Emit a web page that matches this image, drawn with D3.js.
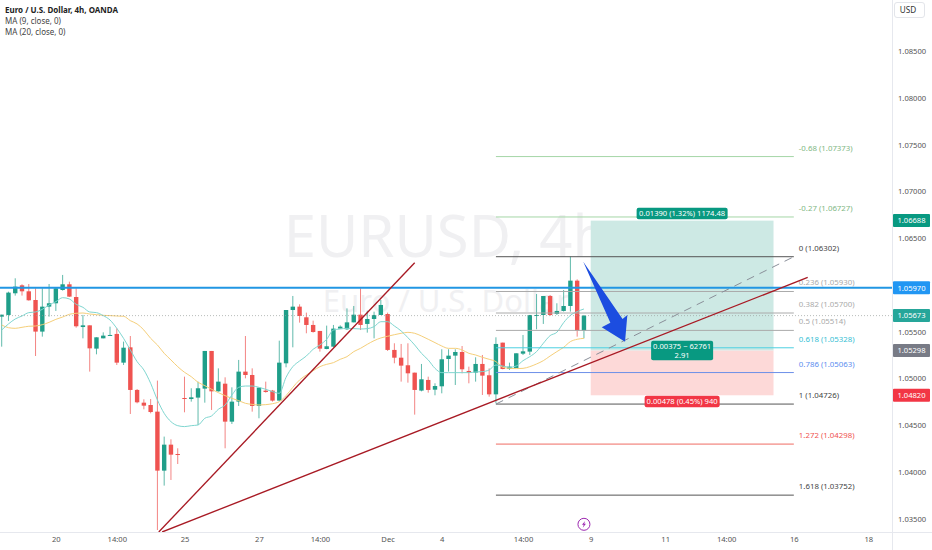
<!DOCTYPE html>
<html>
<head>
<meta charset="utf-8">
<script src="https://cdn.jsdelivr.net/npm/d3@7"></script>
<style>
  body { margin: 0; background: #fff; overflow: hidden; }
  text { font-family: "Noto Sans", sans-serif; }
</style>
</head>
<body>
<div id="chart"></div>
<script>
// EUR/USD 4h candles
const opens = [
  1.05661,1.05679,1.05911,1.05996,1.05932,1.05839,1.05501,1.05768,1.05804,1.05946,
  1.06007,1.05871,1.05550,1.05568,1.05319,1.05429,1.05458,1.05476,1.05169,1.05333,
  1.04877,1.04741,1.04716,1.04645,1.04014,1.04292,1.04192,1.04791,1.04780,1.04795,
  1.04891,1.05294,1.04862,1.04944,1.04538,1.04752,1.05073,1.05037,1.04706,1.04870,
  1.04870,1.04763,1.05162,1.05732,1.05768,1.05654,1.05572,1.05508,1.05315,1.05340,
  1.05533,1.05526,1.05600,1.05682,1.05583,1.05636,1.05679,1.05689,1.05305,1.05222,
  1.05141,1.05062,1.04870,1.04984,1.04880,1.04916,1.05208,1.05244,1.05283,1.05080,
  1.05062,1.05155,1.05034,1.04830,1.05383,1.05101,1.05112,1.05265,1.05287,1.05672,
  1.05679,1.05882,1.05690,1.05722,1.05775,1.06046,1.05511];
const highs = [
  1.05682,1.05928,1.06071,1.06007,1.06010,1.05964,1.05964,1.06010,1.05975,1.06107,
  1.06035,1.05964,1.05679,1.05568,1.05440,1.05493,1.05554,1.05536,1.05394,1.05454,
  1.04887,1.04777,1.04780,1.04977,1.04378,1.04349,1.04253,1.05019,1.04895,1.04966,
  1.05294,1.05294,1.05108,1.05012,1.04905,1.05198,1.05454,1.05108,1.04902,1.04966,
  1.04877,1.05404,1.05732,1.05882,1.05793,1.05704,1.05618,1.05508,1.05565,1.05572,
  1.05568,1.05750,1.05775,1.05964,1.05725,1.05714,1.05839,1.05704,1.05376,1.05369,
  1.05376,1.05062,1.05155,1.05019,1.04948,1.05312,1.05312,1.05312,1.05347,1.05126,
  1.05226,1.05251,1.05108,1.05440,1.05383,1.05169,1.05269,1.05465,1.05679,1.05903,
  1.05882,1.05893,1.05804,1.05946,1.06303,1.06060,1.05679];
const lows = [
  1.05340,1.05615,1.05886,1.05886,1.05832,1.05240,1.05447,1.05661,1.05722,1.05939,
  1.05871,1.05543,1.05429,1.05073,1.05258,1.05429,1.05458,1.05144,1.05144,1.04620,
  1.04734,1.04670,1.04627,1.03379,1.03854,1.03914,1.04085,1.04638,1.04752,1.04502,
  1.04741,1.04663,1.04859,1.04253,1.04513,1.04706,1.05001,1.04645,1.04574,1.04848,
  1.04752,1.04763,1.05119,1.05333,1.05597,1.05483,1.05490,1.05287,1.05312,1.05333,
  1.05533,1.05518,1.05600,1.05518,1.05490,1.05429,1.05679,1.05294,1.05162,1.04966,
  1.04955,1.04613,1.04862,1.04848,1.04820,1.04841,1.05073,1.04930,1.05055,1.04948,
  1.04966,1.04823,1.04805,1.04734,1.05098,1.05091,1.05112,1.05251,1.05251,1.05526,
  1.05583,1.05668,1.05679,1.05715,1.05715,1.05447,1.05429];
const closes = [
  1.05682,1.05918,1.05982,1.05932,1.05836,1.05501,1.05768,1.05804,1.05964,1.06007,
  1.05875,1.05558,1.05568,1.05322,1.05440,1.05458,1.05465,1.05169,1.05329,1.04877,
  1.04745,1.04709,1.04641,1.04014,1.04292,1.04185,1.04185,1.04784,1.04798,1.04895,
  1.05294,1.04862,1.04966,1.04538,1.04752,1.05073,1.05037,1.04706,1.04902,1.04855,
  1.04763,1.05169,1.05732,1.05768,1.05668,1.05572,1.05497,1.05319,1.05344,1.05533,
  1.05554,1.05600,1.05682,1.05572,1.05636,1.05679,1.05786,1.05305,1.05222,1.05137,
  1.05055,1.04877,1.04991,1.04877,1.04919,1.05205,1.05244,1.05283,1.05098,1.05062,
  1.05155,1.05030,1.04830,1.05369,1.05101,1.05126,1.05269,1.05290,1.05679,1.05679,
  1.05882,1.05679,1.05722,1.05775,1.06046,1.05511,1.05672];

const ma9 = [
  1.05518,1.05583,1.05636,1.05668,1.05704,1.05711,1.05739,1.05786,1.05821,1.05864,
  1.05850,1.05793,1.05761,1.05711,1.05704,1.05672,1.05625,1.05536,1.05429,1.05305,
  1.05180,1.05091,1.04948,1.04770,1.04627,1.04538,1.04495,1.04485,1.04495,1.04502,
  1.04574,1.04599,1.04670,1.04716,1.04823,1.04905,1.04919,1.04919,1.04905,1.04884,
  1.04859,1.04841,1.05012,1.05126,1.05187,1.05240,1.05312,1.05358,1.05419,1.05518,
  1.05529,1.05536,1.05533,1.05529,1.05533,1.05554,1.05607,1.05607,1.05561,1.05508,
  1.05436,1.05358,1.05269,1.05198,1.05108,1.05062,1.05062,1.05062,1.05062,1.05062,
  1.05069,1.05073,1.05091,1.05144,1.05133,1.05119,1.05133,1.05190,1.05233,1.05287,
  1.05376,1.05458,1.05494,1.05597,1.05675,1.05715,1.05743];
const ma20 = [
  1.05572,1.05543,1.05536,1.05547,1.05558,1.05561,1.05575,1.05600,1.05632,1.05657,
  1.05686,1.05697,1.05700,1.05689,1.05682,1.05675,1.05672,1.05668,1.05665,1.05618,
  1.05583,1.05518,1.05429,1.05358,1.05269,1.05198,1.05126,1.05066,1.05019,1.04959,
  1.04923,1.04884,1.04848,1.04816,1.04787,1.04763,1.04734,1.04723,1.04716,1.04720,
  1.04730,1.04752,1.04816,1.04905,1.04984,1.05037,1.05083,1.05126,1.05151,1.05169,
  1.05205,1.05233,1.05287,1.05322,1.05365,1.05404,1.05433,1.05451,1.05468,1.05483,
  1.05493,1.05483,1.05454,1.05419,1.05383,1.05347,1.05322,1.05322,1.05305,1.05269,
  1.05251,1.05226,1.05205,1.05180,1.05119,1.05108,1.05105,1.05108,1.05126,1.05155,
  1.05190,1.05240,1.05287,1.05333,1.05394,1.05419,1.05429];

// axes
const priceTicks = [1.035,1.04,1.045,1.05,1.055,1.06,1.065,1.07,1.075,1.08,1.085];
const timeTicks = [8,17,27,38,47,57,65,77,87,98,107,117,128];
const timeLabels = ["20","14:00","25","27","14:00","Dec","4","14:00","9","11","14:00","16","18"];

// fib retracement
const fibRatios = ["-0.68","-0.27","0","0.236","0.382","0.5","0.618","0.786","1","1.272","1.618"];
const fibPrices = [1.07373,1.06727,1.06302,1.0593,1.057,1.05514,1.05328,1.05063,1.04726,1.04298,1.03752];
const fibColors = ["#a5d6a7","#a5d6a7","#555","#aaa","#aaa","#aaa","#4dd0e1","#6d8fe8","#555","#ef6c62","#555"];
const fibLabelColors = ["#81b784","#81b784","#444","#aaa","#aaa","#aaa","#35c0d4","#5b8def","#444","#ef5350","#444"];
const fibStart = 73, fibEnd = 117;

// long position tool
const posStart = 87, posEnd = 114;
const posTarget = 1.06688, posEntry = 1.05298, posStop = 1.0482;

// drawings, as [candle index, price]
const trend1 = [[23.2,1.03358],[61,1.06238]];
const trend2 = [[23.7,1.03358],[119.05,1.06081]];
const fibDiag = [[73,1.04726],[117,1.06302]];
const arrowPts = [[85.9,1.06249],[91.7,1.05635],[92.41,1.05679],[92.07,1.05393],[88.63,1.05547],[89.9,1.05595]];
const hLine = 1.0597;

const priceTags = [
  {p:1.06688, c:"#089981"},
  {p:1.0597, c:"#2196f3"},
  {p:1.05673, c:"#26a69a"},
  {p:1.05298, c:"#787b86"},
  {p:1.0482, c:"#f23645"}
];

const width = 932, height = 550;
const plotW = 892, plotH = 532;
const upColor = "#1f9e89", downColor = "#ef5350";

const svg = d3.select("#chart").append("svg")
  .attr("width", width).attr("height", height)
  .style("display", "block");

const x = d3.scaleLinear().domain([-0.25,131.5]).range([0,plotW]);
const y = d3.scaleLinear().domain([1.035,1.085]).range([518.7,51.2]);

svg.append("clipPath").attr("id","plot").append("rect")
  .attr("width",plotW).attr("height",plotH);

const plot = svg.append("g").attr("clip-path","url(#plot)");

// watermark
plot.append("text").attr("x",446).attr("y",257)
  .attr("text-anchor","middle").attr("font-size",58).attr("fill","#f0f0f2")
  .text("EURUSD, 4h");
plot.append("text").attr("x",446).attr("y",312)
  .attr("text-anchor","middle").attr("font-size",31).attr("fill","#f0f0f2")
  .text("Euro / U.S. Dollar");

// position tool zones
plot.append("rect").attr("x",x(posStart)).attr("width",x(posEnd)-x(posStart))
  .attr("y",y(posTarget)).attr("height",y(posEntry)-y(posTarget))
  .attr("fill","#cde9e4");
plot.append("rect").attr("x",x(posStart)).attr("width",x(posEnd)-x(posStart))
  .attr("y",y(posEntry)).attr("height",y(posStop)-y(posEntry))
  .attr("fill","#fdd9d8");

// candles
const idx = d3.range(opens.length);
const dir = i => closes[i] >= opens[i] ? upColor : downColor;

plot.selectAll(".wick").data(idx).enter().append("line")
  .attr("class","wick")
  .attr("x1",i => x(i)).attr("x2",i => x(i))
  .attr("y1",i => y(highs[i])).attr("y2",i => y(lows[i]))
  .attr("stroke",dir).attr("stroke-width",1).attr("opacity",0.7);

plot.selectAll(".body").data(idx).enter().append("rect")
  .attr("class","body")
  .attr("x",i => x(i)-2.2).attr("width",4.4)
  .attr("y",i => y(Math.max(opens[i],closes[i])))
  .attr("height",i => Math.max(1,Math.abs(y(opens[i])-y(closes[i]))))
  .attr("fill",dir);

// moving averages
const maLine = d3.line().x((d,i) => x(i)).y(d => y(d)).curve(d3.curveMonotoneX);
plot.append("path").attr("d",maLine(ma20)).attr("fill","none").attr("stroke","#f5cf7a").attr("stroke-width",1);
plot.append("path").attr("d",maLine(ma9)).attr("fill","none").attr("stroke","#7fd6d0").attr("stroke-width",1);

// fib levels
fibPrices.forEach((p,k) => {
  plot.append("line").attr("x1",x(fibStart)).attr("x2",x(fibEnd))
    .attr("y1",y(p)).attr("y2",y(p))
    .attr("stroke",fibColors[k]).attr("stroke-width",1);
  plot.append("text").attr("x",x(fibEnd)+5).attr("y",y(p)-6)
    .attr("font-size",7.85).attr("fill",fibLabelColors[k])
    .text(fibRatios[k] + " (" + p.toFixed(5) + ")");
});

const dl = d3.line().x(d => x(d[0])).y(d => y(d[1]));
plot.append("path").attr("d",dl(fibDiag)).attr("fill","none")
  .attr("stroke","#8a8f99").attr("stroke-width",1).attr("stroke-dasharray","8 6");

// current price, horizontal level
plot.append("line").attr("x1",0).attr("x2",plotW)
  .attr("y1",y(closes[closes.length-1])).attr("y2",y(closes[closes.length-1]))
  .attr("stroke","#9aa09c").attr("stroke-width",0.7).attr("stroke-dasharray","1 2");
plot.append("line").attr("x1",0).attr("x2",plotW)
  .attr("y1",y(hLine)).attr("y2",y(hLine))
  .attr("stroke","#2196e3").attr("stroke-width",2);

// trend lines
[trend1,trend2].forEach(t => {
  plot.append("path").attr("d",dl(t)).attr("fill","none")
    .attr("stroke","#a81a24").attr("stroke-width",1.35);
});

// arrow
plot.append("polygon")
  .attr("points",arrowPts.map(d => x(d[0]) + "," + y(d[1])).join(" "))
  .attr("fill","#1c4de0");

// position tool labels
function posLabel(cx, cy, w, h, color, lines) {
  plot.append("rect").attr("x",cx-w/2).attr("y",cy-h/2).attr("width",w).attr("height",h)
    .attr("rx",2).attr("fill",color);
  lines.forEach((s,k) => {
    plot.append("text").attr("x",cx).attr("y",cy+2.8+(k-(lines.length-1)/2)*9)
      .attr("text-anchor","middle").attr("font-size",7.6).attr("fill","#fff").text(s);
  });
}
const posMid = x((posStart+posEnd)/2);
posLabel(posMid, 213.6, 91, 11.5, "#089981", ["0.01390 (1.32%) 1174.48"]);
posLabel(posMid, 350.5, 62, 19.5, "#089981", ["0.00375 ~ 62761","2.91"]);
posLabel(posMid, 401.5, 75, 11.5, "#f23645", ["0.00478 (0.45%) 940"]);

// axis borders
svg.append("line").attr("x1",plotW+0.5).attr("x2",plotW+0.5).attr("y1",0).attr("y2",height).attr("stroke","#e6e8ee");
svg.append("line").attr("x1",0).attr("x2",width).attr("y1",plotH+0.5).attr("y2",plotH+0.5).attr("stroke","#e6e8ee");

// axes
const yAxis = svg.append("g").attr("transform",`translate(${plotW},0)`)
  .call(d3.axisRight(y).tickValues(priceTicks).tickSize(0).tickPadding(6).tickFormat(d3.format(".5f")));
const xAxis = svg.append("g").attr("transform",`translate(0,${plotH})`)
  .call(d3.axisBottom(x).tickValues(timeTicks).tickSize(0).tickPadding(5).tickFormat((d,i) => timeLabels[i]));
[yAxis,xAxis].forEach(a => {
  a.select(".domain").remove();
  a.selectAll("text").attr("fill","#555").attr("font-size",7.6).attr("font-family",'"Noto Sans", sans-serif');
});

// price tags
priceTags.forEach(t => {
  svg.append("rect").attr("x",plotW+1).attr("y",y(t.p)-6.5).attr("width",37).attr("height",13)
    .attr("rx",1).attr("fill",t.c);
  svg.append("text").attr("x",plotW+19.5).attr("y",y(t.p)+2.8).attr("text-anchor","middle")
    .attr("font-size",7.6).attr("fill","#fff").text(t.p.toFixed(5));
});

// USD button
svg.append("rect").attr("x",894.5).attr("y",2.5).attr("width",30).attr("height",15)
  .attr("rx",2.5).attr("fill","#fff").attr("stroke","#e3e5ea");
svg.append("text").attr("x",908).attr("y",13).attr("text-anchor","middle")
  .attr("font-size",8.2).attr("fill","#333").text("USD");

// lightning marker
const mark = svg.append("g").attr("transform",`translate(${x(86)},524.3)`);
mark.append("circle").attr("r",6).attr("fill","#fff").attr("stroke","#9c27b0").attr("stroke-width",1);
mark.append("path").attr("d","M1.2,-3.4 L-2,0.5 L-0.2,0.5 L-1.2,3.4 L2,-0.6 L0.2,-0.6 Z").attr("fill","#9c27b0");

// legend
const legend = ["Euro / U.S. Dollar, 4h, OANDA","MA (9, close, 0)","MA (20, close, 0)"];
legend.forEach((s,k) => {
  svg.append("text").attr("x",5).attr("y",13.2+k*10.9)
    .attr("font-size",8).attr("font-weight",k == 0 ? 700 : 400).attr("fill",k == 0 ? "#222" : "#444").text(s);
});
</script>
</body>
</html>
